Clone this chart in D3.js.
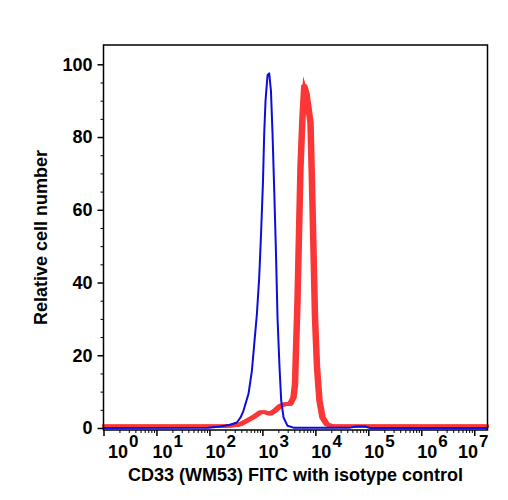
<!DOCTYPE html>
<html>
<head>
<meta charset="utf-8">
<script src="https://cdn.jsdelivr.net/npm/d3@7"></script>
<style>
  body { margin: 0; background: #fff; }
  svg { display: block; font-family: "Liberation Sans", Arial, sans-serif; font-weight: bold; }
</style>
</head>
<body>
<svg id="chart" width="508" height="500"></svg>
<script>
// isotype control (blue): intensity, relative cell number
const isoX = [1, 95, 160, 245, 330, 390, 440, 547, 634, 701, 788, 871, 938, 1023, 1082, 1146, 1250, 1345,
  1449, 1553, 1673, 1800, 1929, 2105, 2266, 2506, 2981, 3870, 45500, 59000, 87000, 108000, 17800000];
const isoY = [0, 0.1, 0.4, 0.9, 1.5, 3, 4.8, 9.4, 15.8, 23, 31.4, 41.5, 52.5, 67.2, 81, 90, 97, 97.5,
  92.8, 81, 65.3, 48.8, 30.4, 16.7, 7.5, 2.9, 0.6, 0.1, 0.1, 0.4, 0.4, 0, 0];

// CD33 (WM53) FITC (red)
const cd33X = [1, 199, 330, 380, 510, 680, 910, 1130, 1405, 1746, 2172, 2700, 3352, 3870, 4130, 4307, 4600,
  4910, 5240, 5715, 6180, 6800, 7420, 8090, 8650, 9230, 9850, 10740, 11970, 13640, 16500, 20800, 17800000];
const cd33Y = [0.5, 0.5, 0.8, 1.0, 2.0, 3.0, 4.3, 4.3, 3.9, 4.8, 6.1, 6.6, 6.6, 8.4, 12.1, 21.3, 35,
  53.4, 71.7, 85.5, 94, 92, 88, 84, 67, 48.8, 30.4, 16.7, 7.5, 2.9, 1.0, 0.5, 0.5];

const xDecades = [0, 1, 2, 3, 4, 5, 6, 7];
const yMajor = [0, 20, 40, 60, 80, 100];
const yMinor = [5, 10, 15, 25, 30, 35, 45, 50, 55, 65, 70, 75, 85, 90, 95];

const svg = d3.select('#chart');
const plotL = 103.5, plotR = 487.5, plotT = 45, plotB = 430;

const x = d3.scaleLog().domain([1, Math.pow(10, 7.25)]).range([plotL, plotR]);
const y = d3.scaleLinear().domain([0, 100]).range([428, 64.3]);

// y axis
let yAx = svg.append('g')
  .attr('transform', `translate(${plotL},0)`)
  .call(d3.axisLeft(y).tickValues(yMajor).tickSize(6).tickPadding(5));
yAx.select('.domain').remove();
yAx.selectAll('line').attr('stroke', '#000').attr('stroke-width', 1.5);
yAx.selectAll('text').style('font-size', '18px').style('font-family', '"Liberation Sans", Arial, sans-serif')
  .style('font-weight', 'bold').attr('fill', '#000');

let yMin = svg.append('g')
  .attr('transform', `translate(${plotL},0)`)
  .call(d3.axisLeft(y).tickValues(yMinor).tickSize(3).tickFormat(''));
yMin.select('.domain').remove();
yMin.selectAll('line').attr('stroke', '#000').attr('stroke-width', 1);

// x axis
const minorVals = [];
xDecades.forEach(function(d) {
  for (let k = 2; k <= 9; k++) {
    const v = k * Math.pow(10, d);
    if (v < x.domain()[1]) minorVals.push(v);
  }
});
let xAx = svg.append('g')
  .attr('transform', `translate(0,${plotB})`)
  .call(d3.axisBottom(x).tickValues(xDecades.map(d => Math.pow(10, d))).tickSize(6).tickFormat(''));
xAx.select('.domain').remove();
xAx.selectAll('line').attr('stroke', '#000').attr('stroke-width', 1.5);

let xMin = svg.append('g')
  .attr('transform', `translate(0,${plotB})`)
  .call(d3.axisBottom(x).tickValues(minorVals).tickSize(3).tickFormat(''));
xMin.select('.domain').remove();
xMin.selectAll('line').attr('stroke', '#000').attr('stroke-width', 1);

// decade labels, nudged to stay inside the frame
xDecades.forEach(function(d) {
  const t = svg.append('text')
    .attr('y', 458)
    .style('font-size', '18px')
    .attr('fill', '#000');
  t.append('tspan').text('10');
  t.append('tspan').text(d).style('font-size', '17px').attr('dx', 1).attr('dy', -11);
  const w = t.node().getComputedTextLength();
  let tx = x(Math.pow(10, d)) - 4;
  tx = Math.max(tx, plotL + 4.5);
  tx = Math.min(tx, plotR - w);
  t.attr('x', tx);
});

// curves
const line = d3.line()
  .x(d => x(d[0]))
  .y(d => y(d[1]))
  .curve(d3.curveLinear);

// red trace is smeared sideways a little, like the scanned histogram
const redPath = line(d3.zip(cd33X, cd33Y));
[-1.5, 1.5, 0].forEach(function(dx) {
  svg.append('path')
    .attr('d', redPath)
    .attr('transform', `translate(${dx},0)`)
    .attr('fill', 'none')
    .attr('stroke', '#fb3636')
    .attr('stroke-width', 3.5)
    .attr('stroke-linejoin', dx == 0 ? 'miter' : 'round')
    .attr('stroke-miterlimit', 8);
});

svg.append('path')
  .datum(d3.zip(isoX, isoY))
  .attr('d', line)
  .attr('fill', 'none')
  .attr('stroke', '#0d0ddb')
  .attr('stroke-width', 2)
  .attr('stroke-linejoin', 'round');

// frame
svg.append('rect')
  .attr('x', plotL).attr('y', plotT)
  .attr('width', plotR - plotL).attr('height', plotB - plotT)
  .attr('fill', 'none')
  .attr('stroke', '#000')
  .attr('stroke-width', 1.5);

// titles
svg.append('text')
  .attr('x', (plotL + plotR) / 2)
  .attr('y', 481)
  .attr('text-anchor', 'middle')
  .style('font-size', '18px')
  .text('CD33 (WM53) FITC with isotype control');

svg.append('text')
  .attr('transform', `translate(47,${(plotT + plotB) / 2}) rotate(-90)`)
  .attr('text-anchor', 'middle')
  .style('font-size', '18px')
  .text('Relative cell number');
</script>
</body>
</html>
